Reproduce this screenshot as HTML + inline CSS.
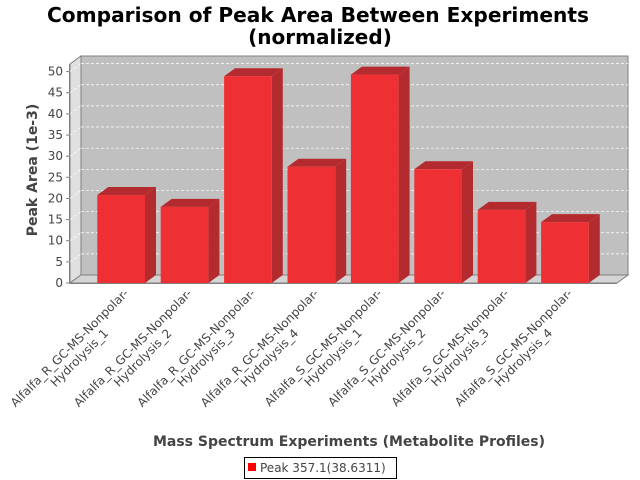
<!DOCTYPE html>
<html><head><meta charset="utf-8">
<style>
html,body{margin:0;padding:0;background:#fff;}
svg{display:block;font-family:"DejaVu Sans","Liberation Sans",sans-serif;}
</style></head>
<body>
<svg id="chart" width="640" height="480" viewBox="0 0 640 480" xmlns="http://www.w3.org/2000/svg">
<rect width="640" height="480" fill="#ffffff"/>
<text x="318" y="22" text-anchor="middle" font-size="20" font-weight="bold" fill="#000" textLength="542" lengthAdjust="spacingAndGlyphs">Comparison of Peak Area Between Experiments</text>
<text x="320" y="44" text-anchor="middle" font-size="20" font-weight="bold" fill="#000">(normalized)</text>
<g id="plot"></g>
<text transform="translate(37,170) rotate(-90)" text-anchor="middle" font-size="14" font-weight="bold" fill="#444">Peak Area (1e-3)</text>
<text x="349" y="446" text-anchor="middle" font-size="14" font-weight="bold" fill="#444">Mass Spectrum Experiments (Metabolite Profiles)</text>
<g>
<rect x="244.5" y="457.5" width="152" height="21" fill="#fff" stroke="#000" stroke-width="1"/>
<rect x="248" y="463" width="8" height="8" fill="#ff0000"/>
<text x="260" y="472" font-size="12" fill="#444">Peak 357.1(38.6311)</text>
</g>
</svg>
<script>
const categories = [
  ["Alfalfa_R_GC-MS-Nonpolar-","Hydrolysis_1"],
  ["Alfalfa_R_GC-MS-Nonpolar-","Hydrolysis_2"],
  ["Alfalfa_R_GC-MS-Nonpolar-","Hydrolysis_3"],
  ["Alfalfa_R_GC-MS-Nonpolar-","Hydrolysis_4"],
  ["Alfalfa_S_GC-MS-Nonpolar-","Hydrolysis_1"],
  ["Alfalfa_S_GC-MS-Nonpolar-","Hydrolysis_2"],
  ["Alfalfa_S_GC-MS-Nonpolar-","Hydrolysis_3"],
  ["Alfalfa_S_GC-MS-Nonpolar-","Hydrolysis_4"]
];
const values = [20.8, 18.0, 48.9, 27.5, 49.3, 26.9, 17.3, 14.4];
const yTicks = [0,5,10,15,20,25,30,35,40,45,50];
const yMax = 51.8;

const NS = "http://www.w3.org/2000/svg";
const plot = document.getElementById('plot');
const X0 = 70, X1 = 617, Y0 = 283, YTOP = 64, DX = 11, DY = 8;
function yScale(v){ return Y0 - (v / yMax) * (Y0 - YTOP); }
const firstLeft = 97.3, pitch = 63.4, barW = 47.7;
function xBand(i){ return firstLeft + i * pitch; }
function mk(tag, attrs){ const e = document.createElementNS(NS, tag); for (const k in attrs) e.setAttribute(k, attrs[k]); plot.appendChild(e); return e; }

let e = mk('polygon', {points:`${X0+DX},${Y0-DY} ${X1+DX},${Y0-DY} ${X1+DX},${YTOP-DY} ${X0+DX},${YTOP-DY}`, fill:'#c0c0c0', stroke:'#808080', 'stroke-width':1});


e = mk('polygon', {points:`${X0},${Y0} ${X0+DX},${Y0-DY} ${X0+DX},${YTOP-DY} ${X0},${YTOP}`, fill:'#e0e0e0', stroke:'#808080', 'stroke-width':1});


e = mk('polygon', {points:`${X0},${Y0} ${X1},${Y0} ${X1+DX},${Y0-DY} ${X0+DX},${Y0-DY}`, fill:'#d4d4d4', stroke:'#808080', 'stroke-width':1});



yTicks.forEach(t => {
  const y = yScale(t);
  if (t > 0) {
    e = mk('line', {x1:X0+DX, x2:X1+DX, y1:y-DY, y2:y-DY, stroke:'#ffffff', 'stroke-width':0.7, 'stroke-dasharray':'3,2'});
    
    
    e = mk('line', {x1:X0, x2:X0+DX, y1:y, y2:y-DY, stroke:'#ffffff', 'stroke-width':0.7, 'stroke-dasharray':'3,2'});
    
    
  }
  e = mk('line', {x1:X0-4, x2:X0, y1:y, y2:y, stroke:'#808080', 'stroke-width':1});
  
  
  e = mk('text', {x:X0-7, y:y+4, 'text-anchor':'end', 'font-size':12, fill:'#444'});
  e.textContent = t;
  
  
});

values.forEach((v, i) => {
  const x = xBand(i), y = yScale(v);
  const g = document.createElementNS(NS, 'g');
  
  
  plot.appendChild(g);
  const side = document.createElementNS(NS, 'polygon');
  side.setAttribute('points', `${x+barW},${Y0} ${x+barW+DX},${Y0-DY} ${x+barW+DX},${y-DY} ${x+barW},${y}`);
  side.setAttribute('fill', '#b42b2f');
  g.appendChild(side);
  const top = document.createElementNS(NS, 'polygon');
  top.setAttribute('points', `${x},${y} ${x+DX},${y-DY} ${x+barW+DX},${y-DY} ${x+barW},${y}`);
  top.setAttribute('fill', '#b42b2f');
  g.appendChild(top);
  const front = document.createElementNS(NS, 'rect');
  front.setAttribute('x', x); front.setAttribute('y', y);
  front.setAttribute('width', barW); front.setAttribute('height', Y0 - y);
  front.setAttribute('fill', '#ee2f33');
  g.appendChild(front);
});

e = mk('line', {x1:X0, x2:X1, y1:Y0+0.5, y2:Y0+0.5, stroke:'#808080', 'stroke-width':1});


e = mk('line', {x1:X0-0.5, x2:X0-0.5, y1:YTOP, y2:Y0, stroke:'#808080', 'stroke-width':1});



categories.forEach((lines, i) => {
  const cx = xBand(i) + barW / 2 + 8;
  const g = document.createElementNS(NS, 'g');
  g.setAttribute('transform', `translate(${cx},294) rotate(-45)`);
  
  
  plot.appendChild(g);
  const t1 = document.createElementNS(NS, 'text');
  t1.setAttribute('font-size', 12); t1.setAttribute('fill', '#444');
  t1.setAttribute('text-anchor', 'end'); t1.setAttribute('x', 0); t1.setAttribute('y', 0);
  t1.textContent = lines[0];
  g.appendChild(t1);
  const w = t1.getComputedTextLength ? t1.getComputedTextLength() : 170;
  const t2 = document.createElementNS(NS, 'text');
  t2.setAttribute('font-size', 12); t2.setAttribute('fill', '#444');
  t2.setAttribute('text-anchor', 'middle'); t2.setAttribute('x', -w / 2); t2.setAttribute('y', 14);
  t2.textContent = lines[1];
  g.appendChild(t2);
});
</script>
</body></html>
